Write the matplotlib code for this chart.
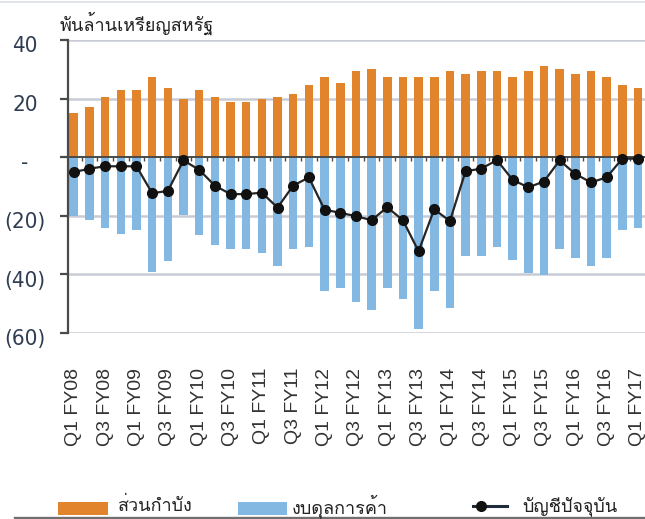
import numpy as np
import matplotlib
matplotlib.use("Agg")
import matplotlib.pyplot as plt
from matplotlib import font_manager as fm
from matplotlib.ft2font import FT2Font
from matplotlib.patches import Rectangle
from matplotlib.lines import Line2D
from matplotlib.transforms import ScaledTranslation

# ---------------- data ----------------
quarters = ["Q1 FY08", "Q2 FY08", "Q3 FY08", "Q4 FY08",
            "Q1 FY09", "Q2 FY09", "Q3 FY09", "Q4 FY09",
            "Q1 FY10", "Q2 FY10", "Q3 FY10", "Q4 FY10",
            "Q1 FY11", "Q2 FY11", "Q3 FY11", "Q4 FY11",
            "Q1 FY12", "Q2 FY12", "Q3 FY12", "Q4 FY12",
            "Q1 FY13", "Q2 FY13", "Q3 FY13", "Q4 FY13",
            "Q1 FY14", "Q2 FY14", "Q3 FY14", "Q4 FY14",
            "Q1 FY15", "Q2 FY15", "Q3 FY15", "Q4 FY15",
            "Q1 FY16", "Q2 FY16", "Q3 FY16", "Q4 FY16",
            "Q1 FY17"]
tick_labels = ["Q1 FY08", "Q3 FY08", "Q1 FY09", "Q3 FY09", "Q1 FY10",
               "Q3 FY10", "Q1 FY11", "Q3 FY11", "Q1 FY12", "Q3 FY12",
               "Q1 FY13", "Q3 FY13", "Q1 FY14", "Q3 FY14", "Q1 FY15",
               "Q3 FY15", "Q1 FY16", "Q3 FY16", "Q1 FY17"]
services = [15, 17, 20.5, 23, 23, 27.3, 23.7, 20, 23, 20.5, 18.7, 18.7, 20,
            20.5, 21.6, 24.7, 27.3, 25.3, 29.4, 30.2, 27.3, 27.3, 27.3, 27.3,
            29.4, 28.4, 29.4, 29.4, 27.3, 29.4, 31.1, 30.2, 28.4, 29.4, 27.3,
            24.6, 23.7]
trade = [-20, -21.3, -24.1, -26.1, -24.9, -39.3, -35.3, -19.8, -26.7, -29.8,
         -31.3, -31.3, -32.6, -37.2, -31.3, -30.7, -45.6, -44.5, -49.3, -52.2,
         -44.5, -48.3, -58.6, -45.6, -51.4, -33.6, -33.6, -30.7, -35.1, -39.5,
         -40.1, -31.3, -34.4, -37.2, -34.4, -24.9, -24.1]
current = [-5.1, -3.9, -3.1, -3.1, -3.1, -12.3, -11.5, -1.1, -4.3, -9.7,
           -12.6, -12.6, -12.1, -17.2, -9.7, -6.9, -17.9, -19.0, -20.1, -21.5,
           -17.1, -21.5, -32.1, -17.8, -21.8, -4.8, -3.9, -1.0, -7.7, -10.3,
           -8.3, -1.1, -5.7, -8.6, -6.9, -0.5, -0.5]
y_ticks = [40, 20, 0, -20, -40, -60]
y_tick_labels = ["40", "20", "-", "(20)", "(40)", "(60)"]
title_text = "พันล้านเหรียญสหรัฐ"
legend_labels = ["ส่วนกำบัง", "งบดุลการค้า", "บัญชีปัจจุบัน"]

# ---------------- fonts ----------------
def find_font_with(char_code):
    found = []
    for f in fm.fontManager.ttflist:
        try:
            cm = FT2Font(f.fname).get_charmap()
            if char_code in cm and f.name not in found:
                found.append(f.name)
        except Exception:
            pass
    return found

thai_fonts = find_font_with(0x0E1E)
names = {f.name for f in fm.fontManager.ttflist}
thai_family = (thai_fonts[:1] if thai_fonts else []) + ["DejaVu Sans"]
if "Liberation Sans Narrow" in names:
    narrow_kw = dict(family="Liberation Sans Narrow")
else:
    narrow_kw = dict(family="DejaVu Sans", fontstretch="condensed")
sans = "Liberation Sans" if "Liberation Sans" in names else "DejaVu Sans"

# ---------------- colours ----------------
c_orange = "#e2842c"
c_blue = "#82b8e2"
c_line = "#262626"
c_grid = "#c9ccd6"
c_axis = "#4a4a4a"
c_ylab = "#2f3d52"

W, H = 645, 519
fig = plt.figure(figsize=(W / 100, H / 100), dpi=100)
ax = fig.add_axes([68 / W, 1 - 333 / H, (W - 68) / W, (333 - 40) / H])

x = np.arange(len(quarters))
bw = 0.55

# gridlines
for v in y_ticks:
    if v != 0:
        ax.axhline(v, color=c_grid, lw=1.8, zorder=0)

ax.bar(x, trade, width=bw, color=c_blue, zorder=2)
ax.bar(x, services, width=bw, color=c_orange, zorder=2)
ax.axhline(0, color=c_axis, lw=1.4, zorder=3)
ax.vlines(x[1:] - 0.5, -1.4, 0, color=c_axis, lw=1.0, zorder=3)
ax.plot(x, current, color=c_line, lw=1.6, marker="o", markersize=7,
        markerfacecolor="#111111", markeredgecolor="#111111", zorder=4)

ax.set_xlim(-0.37, 36.45)
ax.set_ylim(-60, 40)

for s in ["top", "right", "bottom"]:
    ax.spines[s].set_visible(False)
ax.spines["left"].set_color(c_axis)
ax.spines["left"].set_linewidth(1.6)

ax.set_yticks(y_ticks)
ax.set_yticklabels(y_tick_labels, fontsize=16, color=c_ylab, ha="center",
                   **narrow_kw)
ax.tick_params(axis="y", direction="out", length=6, width=1.6, color=c_axis,
               pad=25)
for lab in ax.get_yticklabels():
    lab.set_transform(lab.get_transform() +
                      ScaledTranslation(0, -3 / 72, fig.dpi_scale_trans))

ax.set_xticks(x[::2])
ax.set_xticklabels(tick_labels, rotation=90, fontsize=14, family=sans,
                   color="#333333")
ax.tick_params(axis="x", length=0, pad=25)

# title
fig.text(60 / W, 1 - 23 / H, title_text, family=thai_family, fontsize=13,
         color="#222222", ha="left", va="center")

# legend (manual)
def fy(py):
    return 1 - py / H

fig.add_artist(Rectangle((58 / W, fy(515)), 50 / W, 13 / H,
                         transform=fig.transFigure, color=c_orange, lw=0))
fig.text(118 / W, fy(506), legend_labels[0], family=thai_family, fontsize=13,
         color="#222222", ha="left", va="center")
fig.add_artist(Rectangle((238 / W, fy(515)), 49 / W, 13 / H,
                         transform=fig.transFigure, color=c_blue, lw=0))
fig.text(292 / W, fy(506), legend_labels[1], family=thai_family, fontsize=13,
         color="#222222", ha="left", va="center")
fig.add_artist(Line2D([473 / W, 507 / W], [fy(506), fy(506)],
                      transform=fig.transFigure, color="#1f2a3a", lw=2.2))
fig.add_artist(Line2D([481 / W], [fy(506)], transform=fig.transFigure,
                      marker="o", markersize=7, color="#111111", lw=0))
fig.text(522 / W, fy(506), legend_labels[2], family=thai_family, fontsize=13,
         color="#222222", ha="left", va="center")

# frame lines
fig.add_artist(Line2D([15 / W, 1], [fy(517.5), fy(517.5)],
                      transform=fig.transFigure, color="#707070", lw=2.4))
fig.add_artist(Line2D([0, 1], [fy(1.5), fy(1.5)],
                      transform=fig.transFigure, color="#dcdfe6", lw=1.2))

fig.savefig("out.png", dpi=100)
